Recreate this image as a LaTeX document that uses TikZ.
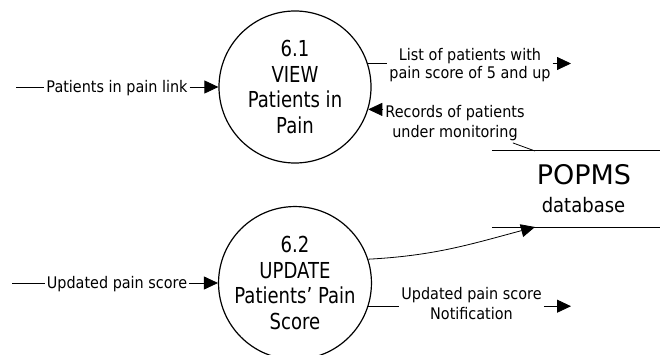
\documentclass[tikz,border=0pt]{standalone}
\usepackage{fontspec}
\setmainfont{DejaVu Sans}
\newfontfamily\circfont{DejaVu Sans}[FakeStretch=0.82]
\newfontfamily\labfont{DejaVu Sans}[FakeStretch=0.9]
\usetikzlibrary{arrows.meta}
\begin{document}
\begin{tikzpicture}[x=1pt,y=-1pt,
  proc/.style={circle,draw,line width=1.2pt,minimum size=152pt,inner sep=0pt,align=center,
    font=\circfont\fontsize{22}{25.7}\selectfont},
  lab/.style={align=center,inner sep=2pt,font=\labfont\fontsize{16}{19}\selectfont},
  flow/.style={line width=0.8pt,draw=black},
  arr/.style={flow,-{Triangle[length=14pt,width=13pt]}},
  storeline/.style={line width=1.3pt},
]
\useasboundingbox (0,0) rectangle (660,355);
% processes
\node[proc] (p1) at (295,87) {6.1\\VIEW\\Patients in\\Pain};
\node[proc,minimum size=150pt] (p2) at (295,283) {6.2\\UPDATE\\Patients’ Pain\\Score};
% data store
\node[minimum width=168pt,minimum height=76pt,inner sep=0pt] (ds) at (576,189) {};
\draw[storeline] (ds.north west) -- (ds.north east);
\draw[storeline] (ds.south west) -- (ds.south east);
\node[anchor=base,inner sep=0pt,font=\fontsize{27}{27}\selectfont] (dsa) at (584,185) {POPMS};
\node[anchor=base,inner sep=0pt,font=\labfont\fontsize{20}{20}\selectfont] (dsb) at (583.5,212) {database};
% input 1
\coordinate (i1) at (16,87);
\node[lab,anchor=base] (l1) at (117,93) {Patients in pain link};
\draw[flow] (i1) -- (i1 -| l1.west);
\draw[arr] (l1.east |- i1) -- (p1.west);
% input 2
\coordinate (i2) at (12,283);
\node[lab,anchor=base] (l2) at (117,288) {Updated pain score};
\draw[flow] (i2) -- (i2 -| l2.west);
\draw[arr] (l2.east |- i2) -- (p2.west);
% output list
\coordinate (o1) at (571,63.5);
\node[lab,font=\labfont\fontsize{16}{18}\selectfont] (l3) at (470,65) {List of patients with\\pain score of 5 and up};
\draw[flow] (p1.18) -- (p1.18 -| l3.west);
\draw[arr] (l3.east |- o1) -- (o1);
% records
\coordinate (d1) at (535,151);
\node[lab,font=\labfont\fontsize{16}{20}\selectfont] (l4) at (455,123) {Records of patients\\under monitoring};
\draw[flow] (d1) -- (l4.-19);
\draw[arr] (l4.west |- p1.-17) -- (p1.-17);
% update to store
\coordinate (d2) at (535,227);
\draw[arr] (p2.18) to[out=3,in=195] (d2);
% notification
\coordinate (o4) at (571,306.2);
\node[lab,font=\labfont\fontsize{16}{20}\selectfont] (l5) at (471.5,304) {Updated pain score\\Notification};
\draw[flow] (p2.-18) -- (p2.-18 -| l5.west);
\draw[arr] (l5.east |- o4) -- (o4);
\end{tikzpicture}
\end{document}
